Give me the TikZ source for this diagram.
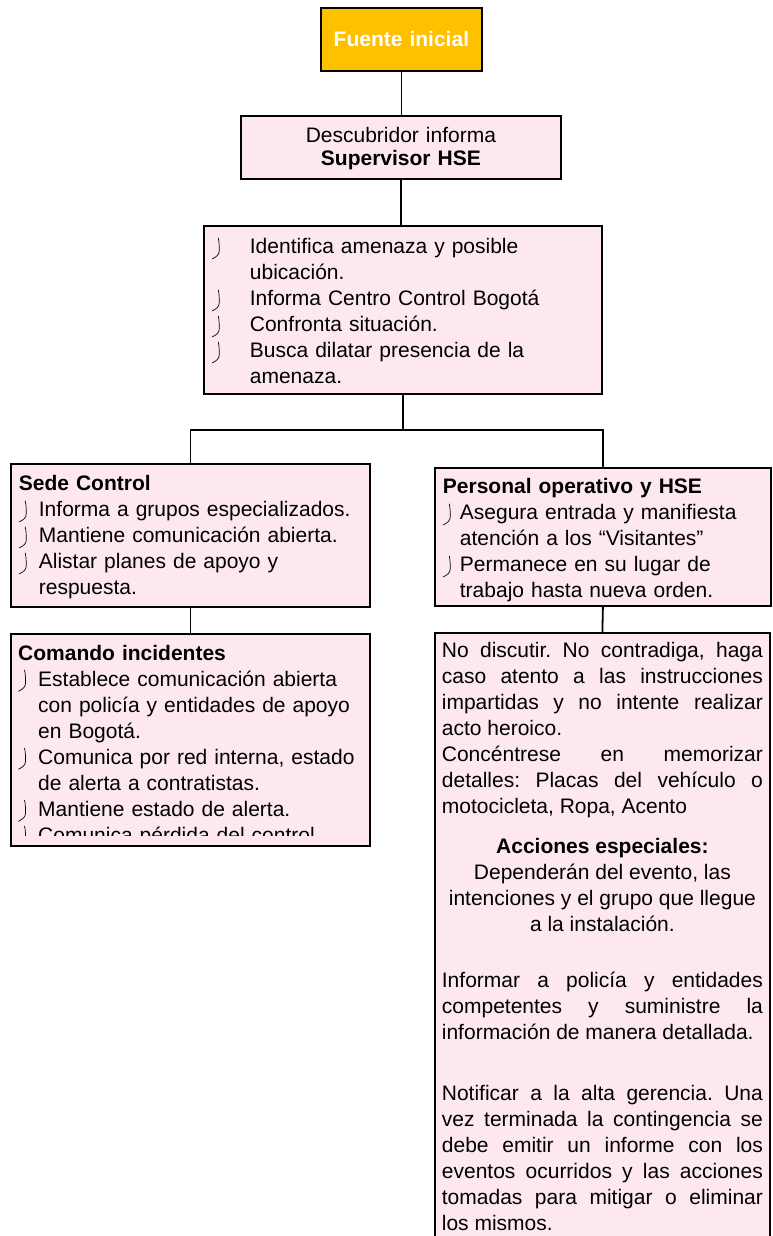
\documentclass[tikz,border=0pt]{standalone}
\usepackage{fontspec}
\setmainfont{Liberation Sans}
\usepackage{tikz}
\usetikzlibrary{positioning,calc}
\definecolor{boxpink}{RGB}{253,233,237}
\definecolor{sourceamber}{RGB}{255,192,0}
\setlength{\parindent}{0pt}
\hyphenpenalty=10000
\exhyphenpenalty=10000
\frenchspacing
% thin bracket-like bullet
\newcommand{\hsemark}{\tikz[baseline=0pt,x=1pt,y=1pt]\draw[line width=0.7pt,line cap=round] (7,16) .. controls (8,12) and (8,7) .. (8,3) .. controls (8,-1) and (5,-3) .. (1,-5);}
\newcommand{\hseitem}[1][20pt]{\makebox[#1][l]{\hsemark}}

\begin{document}
\begin{tikzpicture}[x=1pt, y=-1pt,
  box/.style={draw, line width=1.8pt, fill=boxpink, inner xsep=8pt, inner ysep=0pt, anchor=north west, font=\fontsize{21}{26}\selectfont},
  link/.style={line width=1.8pt}
]
\useasboundingbox (0,0) rectangle (773,1236);

% Source
\node[box, fill=sourceamber, text=white, text width=145pt, align=center, text height=39pt, text depth=24pt, font=\fontsize{21}{26}\selectfont\bfseries] (src) at (320,7) {Fuente inicial};

% Supervisor
\node[box, text width=304pt, align=center, text height=27pt, text depth=36pt] (sup) at (240,115) {Descubridor informa\\[-3pt]\textbf{Supervisor HSE}};

% First actions
\node[box, text width=382pt, align=left, text height=28pt, text depth=140pt] (threat) at (203,225) {%
\hseitem[38pt]Identifica amenaza y posible\\
\hspace*{38pt}ubicación.\\
\hseitem[38pt]Informa Centro Control Bogotá\\
\hseitem[38pt]Confronta situación.\\
\hseitem[38pt]Busca dilatar presencia de la\\
\hspace*{38pt}amenaza.};

% Left branch
\node[box, text width=343pt, align=left, text height=27pt, text depth=116pt] (sede) at (10,463) {%
\textbf{Sede Control}\\
\hseitem Informa a grupos especializados.\\
\hseitem Mantiene comunicación abierta.\\
\hseitem Alistar planes de apoyo y\\
\hspace*{20pt}respuesta.};

\node[box, minimum width=359pt, minimum height=212pt] (cmd) at (10,633) {};
\begin{scope}
\clip (10,633) rectangle (369,835);
\node[anchor=north west, inner xsep=8pt, inner ysep=0pt, text width=343pt, align=left, text height=27pt, font=\fontsize{21}{26}\selectfont] (cmdtext) at (10,633) {%
\textbf{Comando incidentes}\\
\hseitem Establece comunicación abierta\\
\hspace*{20pt}con policía y entidades de apoyo\\
\hspace*{20pt}en Bogotá.\\
\hseitem Comunica por red interna, estado\\
\hspace*{20pt}de alerta a contratistas.\\
\hseitem Mantiene estado de alerta.\\
\hseitem Comunica pérdida del control.};
\end{scope}

% Right branch
\node[box, text width=320pt, align=left, text height=26pt, text depth=112pt] (staff) at (434,467) {%
\textbf{Personal operativo y HSE}\\
\hseitem[17pt]Asegura entrada y manifiesta\\
\hspace*{17pt}atención a los “Visitantes”\\
\hseitem[17pt]Permanece en su lugar de\\
\hspace*{17pt}trabajo hasta nueva orden.};

\node[box, inner xsep=7pt, text width=321pt, align=justify, text height=25pt, text depth=640pt] (act) at (434,632) {%
No discutir. No contradiga, haga\linebreak
caso atento a las instrucciones\linebreak
impartidas y no intente realizar\linebreak
acto heroico.\par
Concéntrese en memorizar\linebreak
detalles: Placas del vehículo o\linebreak
motocicleta, Ropa, Acento\par
\vspace{14pt}
{\centering\textbf{Acciones especiales:}\\
Dependerán del evento, las\\
intenciones y el grupo que llegue\\
a la instalación.\par}
\vspace{30pt}
Informar a policía y entidades\linebreak
competentes y suministre la\linebreak
información de manera detallada.\par
\vspace{35pt}
Notificar a la alta gerencia. Una\linebreak
vez terminada la contingencia se\linebreak
debe emitir un informe con los\linebreak
eventos ocurridos y las acciones\linebreak
tomadas para mitigar o eliminar\linebreak
los mismos.};

% Connections
\coordinate (fork) at ($(threat.south)+(0,35)$);
\draw[link] (src.south) -- (src.south |- sup.north);
\draw[link] (sup.south) -- (sup.south |- threat.north);
\draw[link] (threat.south) -- (fork);
\draw[link] (fork) -| (sede.north);
\draw[link] (fork) -| (staff.north);
\draw[link] (sede.south) -- (cmd.north);
\draw[link] (staff.south) -- (act.north);

\end{tikzpicture}
\end{document}
